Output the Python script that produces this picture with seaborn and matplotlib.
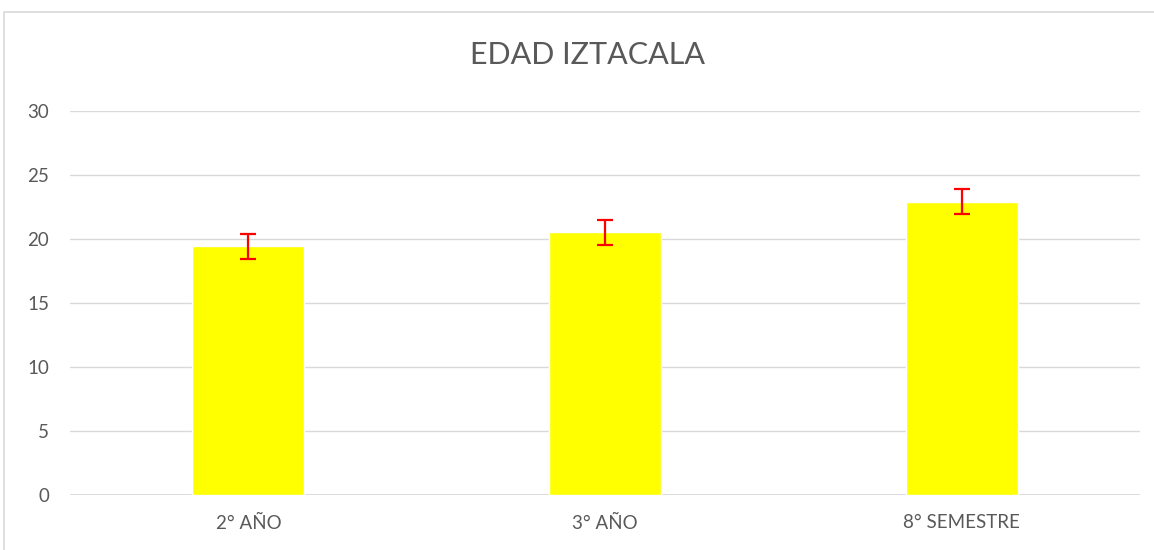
import numpy as np
import pandas as pd
import seaborn as sns
import matplotlib.pyplot as plt
from matplotlib.lines import Line2D

# Data
grupos = ["2° AÑO", "3° AÑO", "8° SEMESTRE"]
edad_media = [19.4, 20.5, 22.9]
edad_error = [1.0, 1.0, 1.0]

df = pd.DataFrame({"grupo": grupos, "edad": edad_media})

sns.set_style("white")
plt.rcParams["font.family"] = ["Lato", "DejaVu Sans"]

gris_texto = "#595959"
gris_linea = "#d9d9d9"

fig = plt.figure(figsize=(11.54, 5.5), dpi=100)
ax = fig.add_axes([70 / 1154, 1 - 495 / 550, 1070 / 1154, (495 - 110.7) / 550])

sns.barplot(x="grupo", y="edad", data=df, color="#ffff00", saturation=1,
            width=0.314, errorbar=None, ax=ax)
ax.errorbar(range(len(grupos)), edad_media, yerr=edad_error, fmt="none",
            ecolor="#ff0000", elinewidth=1.6, capsize=6, capthick=1.6, zorder=5)

ax.set_ylim(0, 30)
ax.set_yticks(np.arange(0, 31, 5))
ax.set_xlim(-0.5, 2.5)
ax.yaxis.grid(True, color=gris_linea, linewidth=1)
ax.set_axisbelow(True)
for s in ax.spines.values():
    s.set_visible(False)
ax.axhline(0, color=gris_linea, linewidth=1.2, zorder=0.5)

ax.set_xlabel("")
ax.set_ylabel("")
ax.tick_params(axis="both", length=0, labelsize=13.5, labelcolor=gris_texto)
ax.tick_params(axis="y", pad=15)
ax.tick_params(axis="x", pad=14)

fig.text(588 / 1154, 1 - 55 / 550, "EDAD IZTACALA", ha="center", va="center",
         fontsize=22, color=gris_texto)

# chart area border (only left and top edges are visible)
fig.add_artist(Line2D([3.5 / 1154, 3.5 / 1154, 1.0], [0.0, 1 - 11.5 / 550, 1 - 11.5 / 550],
                      transform=fig.transFigure, color=gris_linea, linewidth=1.2))

fig.savefig("out.png", dpi=100)
